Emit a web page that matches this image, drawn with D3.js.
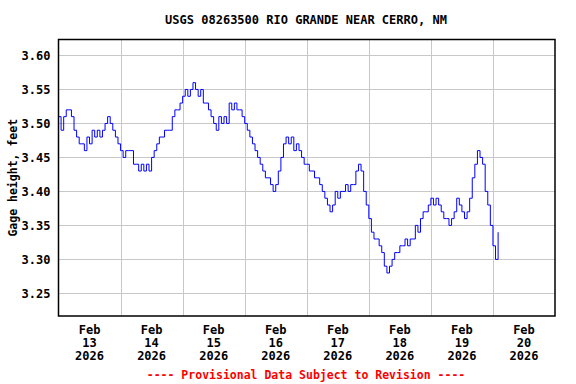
<!DOCTYPE html>
<html>
<head>
<meta charset="utf-8">
<script src="https://cdn.jsdelivr.net/npm/d3@7"></script>
<style>
  body { margin: 0; background: #fff; }
  text { font-family: "DejaVu Sans Mono", monospace; font-weight: bold; }
</style>
</head>
<body>
<script>
const largura = 576
const altura = 384
const margem = {topo: 39.5, direita: 21, base: 68, esquerda: 58.5}

const titulo = 'USGS 08263500 RIO GRANDE NEAR CERRO, NM'
const tituloEixoY = 'Gage height, feet'
const rodape = '---- Provisional Data Subject to Revision ----'

// hourly gage height readings starting 2026-02-13 00:00
const inicio = new Date(2026, 1, 13, 0, 0)
const leituras = [
  3.51, 3.49, 3.51, 3.52, 3.52, 3.51, 3.49, 3.48, 3.47, 3.47, 3.46, 3.48,
  3.47, 3.49, 3.48, 3.49, 3.48, 3.49, 3.50, 3.51, 3.50, 3.49, 3.48, 3.47,
  3.46, 3.45, 3.46, 3.46, 3.46, 3.44, 3.44, 3.43, 3.44, 3.43, 3.44, 3.43,
  3.45, 3.46, 3.47, 3.48, 3.48, 3.49, 3.49, 3.49, 3.51, 3.52, 3.52, 3.53,
  3.54, 3.55, 3.54, 3.55, 3.56, 3.55, 3.54, 3.55, 3.53, 3.53, 3.52, 3.51,
  3.50, 3.49, 3.51, 3.50, 3.51, 3.50, 3.53, 3.52, 3.53, 3.52, 3.52, 3.51,
  3.50, 3.49, 3.48, 3.47, 3.46, 3.45, 3.44, 3.43, 3.42, 3.42, 3.41, 3.40,
  3.41, 3.43, 3.45, 3.47, 3.48, 3.47, 3.48, 3.46, 3.47, 3.46, 3.45, 3.44,
  3.44, 3.43, 3.43, 3.42, 3.42, 3.41, 3.40, 3.39, 3.38, 3.37, 3.38, 3.40,
  3.39, 3.40, 3.40, 3.41, 3.40, 3.41, 3.41, 3.43, 3.44, 3.43, 3.40, 3.38,
  3.36, 3.34, 3.33, 3.33, 3.32, 3.31, 3.29, 3.28, 3.29, 3.30, 3.31, 3.31,
  3.32, 3.32, 3.33, 3.32, 3.33, 3.33, 3.35, 3.34, 3.36, 3.37, 3.37, 3.38,
  3.39, 3.38, 3.39, 3.38, 3.37, 3.36, 3.36, 3.35, 3.36, 3.37, 3.39, 3.38,
  3.37, 3.36, 3.37, 3.39, 3.42, 3.44, 3.46, 3.45, 3.44, 3.40, 3.38, 3.35,
  3.32, 3.30, 3.34
]

const diasRotulo = ['13', '14', '15', '16', '17', '18', '19', '20']
const mesRotulo = 'Feb'
const anoRotulo = '2026'
const ticksY = [3.25, 3.30, 3.35, 3.40, 3.45, 3.50, 3.55, 3.60]

var dados = leituras.map(function (v, i) {
  return {tempo: d3.timeHour.offset(inicio, i), altura: v}
})

var svg = d3.select('body').append('svg').attr('width', largura).attr('height', altura)

var xEscala = d3.scaleTime()
  .domain([inicio, d3.timeDay.offset(inicio, 8)])
  .range([margem.esquerda, largura - margem.direita])

var yEscala = d3.scaleLinear()
  .domain([3.2167, 3.6235])
  .range([altura - margem.base, margem.topo])

// grid
var grade = svg.append('g')
grade.selectAll('line.gy').data(ticksY).enter().append('line')
  .attr('x1', margem.esquerda).attr('x2', largura - margem.direita)
  .attr('y1', function (d) { return Math.round(yEscala(d)) + 0.5 })
  .attr('y2', function (d) { return Math.round(yEscala(d)) + 0.5 })
  .attr('stroke', '#c8c8c8')
var meiaNoite = d3.range(1, 8).map(function (i) { return d3.timeDay.offset(inicio, i) })
grade.selectAll('line.gx').data(meiaNoite).enter().append('line')
  .attr('y1', margem.topo).attr('y2', altura - margem.base)
  .attr('x1', function (d) { return Math.round(xEscala(d)) + 0.5 })
  .attr('x2', function (d) { return Math.round(xEscala(d)) + 0.5 })
  .attr('stroke', '#c8c8c8')

// series
var geradorLinha = d3.line()
  .curve(d3.curveStepAfter)
  .x(function (d) { return xEscala(d.tempo) })
  .y(function (d) { return yEscala(d.altura) })

svg.append('path')
  .attr('d', geradorLinha(dados))
  .attr('fill', 'none')
  .attr('stroke', '#0000ff')
  .attr('stroke-width', 1)

// frame
svg.append('rect')
  .attr('x', margem.esquerda).attr('y', margem.topo)
  .attr('width', largura - margem.direita - margem.esquerda)
  .attr('height', altura - margem.base - margem.topo)
  .attr('fill', 'none').attr('stroke', '#000').attr('stroke-width', 1.5)

// y axis
var eixoY = d3.axisLeft(yEscala).tickValues(ticksY).tickFormat(d3.format('.2f')).tickSize(0).tickPadding(8)
var grupoEixoY = svg.append('g').attr('transform', 'translate(' + margem.esquerda + ',0)').call(eixoY)
grupoEixoY.select('.domain').remove()
grupoEixoY.selectAll('text').attr('font-size', 12).attr('font-family', null).attr('fill', '#000')

// x axis: labels at noon of each day
var meioDia = diasRotulo.map(function (d, i) { return d3.timeHour.offset(d3.timeDay.offset(inicio, i), 12) })
var grupoEixoX = svg.append('g')
var rotulos = grupoEixoX.selectAll('text').data(meioDia).enter().append('text')
  .attr('text-anchor', 'middle')
  .attr('font-size', 12)
  .attr('x', function (d) { return xEscala(d) })
  .attr('y', 334)
rotulos.append('tspan').attr('x', function (d) { return xEscala(d) }).text(mesRotulo)
rotulos.append('tspan').attr('x', function (d) { return xEscala(d) }).attr('dy', 13).text(function (d, i) { return diasRotulo[i] })
rotulos.append('tspan').attr('x', function (d) { return xEscala(d) }).attr('dy', 13).text(anoRotulo)

// titles
svg.append('text')
  .attr('x', 306).attr('y', 24)
  .attr('text-anchor', 'middle').attr('font-size', 12)
  .text(titulo)

svg.append('text')
  .attr('transform', 'translate(17,' + ((margem.topo + altura - margem.base) / 2) + ') rotate(-90)')
  .attr('text-anchor', 'middle').attr('font-size', 11.5)
  .text(tituloEixoY)

svg.append('text')
  .attr('x', 306).attr('y', 379)
  .attr('text-anchor', 'middle').attr('font-size', 11.5)
  .attr('fill', '#ff0000')
  .text(rodape)
</script>
</body>
</html>
